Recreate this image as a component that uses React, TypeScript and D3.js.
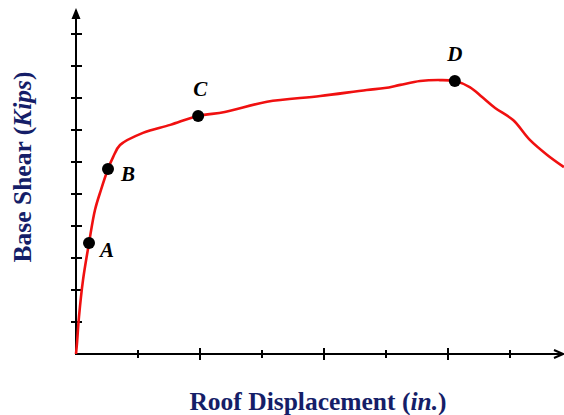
import React from "react";
import * as d3 from "d3";

const curveX = [0, 0.016, 0.048, 0.113, 0.21, 0.306, 0.403, 0.516, 0.6, 0.71, 1.08, 1.52, 1.97, 2.4, 3.08, 3.94, 4.69, 4.98, 5.23, 5.55, 5.87, 6.11, 6.35, 6.55, 6.76, 7.05, 7.32, 7.6, 7.87];
const curveY = [0, 0.34, 1.16, 2.31, 3.47, 4.5, 5.13, 5.78, 6.16, 6.53, 6.91, 7.16, 7.44, 7.56, 7.88, 8.06, 8.25, 8.31, 8.41, 8.53, 8.56, 8.53, 8.34, 8.03, 7.69, 7.31, 6.69, 6.22, 5.84];

const pointLabels = ["A", "B", "C", "D"];
const pointX = [0.21, 0.516, 1.97, 6.11];
const pointY = [3.47, 5.78, 7.44, 8.53];
const labelDx = [18, 20, 2, 0];
const labelDy = [9, 7, -25, -25];

const xTicks = [1, 2, 3, 4, 5, 6, 7];
const yTicks = [1, 2, 3, 4, 5, 6, 7, 8, 9, 10];

const W = 564;
const H = 415;

export default function App() {
  const x = d3.scaleLinear().domain([0, 8]).range([76, 572]);
  const y = d3.scaleLinear().domain([0, 10]).range([354, 34]);
  const data = curveX.map((v, i) => [v, curveY[i]] as [number, number]);
  const line = d3
    .line<[number, number]>()
    .x((d) => x(d[0]))
    .y((d) => y(d[1]))
    .curve(d3.curveCatmullRom.alpha(0.5));

  const x0 = x(0);
  const y0 = y(0);
  const xEnd = 563;
  const yTop = 8;
  const navy = "#151e68";

  return (
    <svg
      width={W}
      height={H}
      style={{ position: "absolute", left: 0, top: 0, background: "#fff" }}
      fontFamily="'Liberation Serif', 'Times New Roman', serif"
    >
      {/* axes */}
      <line x1={x0} y1={y0} x2={xEnd - 1} y2={y0} stroke="#000" strokeWidth={2} />
      <line x1={x0} y1={y0 + 1} x2={x0} y2={yTop + 2} stroke="#000" strokeWidth={2} />
      <path d={`M${x0 - 4.5},${yTop + 11} L${x0},${yTop} L${x0 + 4.5},${yTop + 11} Z`} fill="#000" />
      <path d={`M${xEnd - 9},${y0 - 4} L${xEnd},${y0} L${xEnd - 9},${y0 + 4}`} fill="none" stroke="#000" strokeWidth={2} />

      {xTicks.map((t) => {
        const big = t % 2 === 0;
        return (
          <line
            key={"xt" + t}
            x1={x(t)}
            x2={x(t)}
            y1={y0 - (big ? 6 : 4)}
            y2={y0 + (big ? 6 : 4)}
            stroke="#000"
            strokeWidth={2}
          />
        );
      })}
      {yTicks.map((t) => (
        <line key={"yt" + t} x1={x0 - 5} x2={x0 + 6} y1={y(t)} y2={y(t)} stroke="#000" strokeWidth={2} />
      ))}

      {/* curve */}
      <path d={line(data) || ""} fill="none" stroke="#f01010" strokeWidth={2.6} strokeLinejoin="round" />

      {pointLabels.map((lab, i) => (
        <g key={lab}>
          <circle cx={x(pointX[i])} cy={y(pointY[i])} r={6} fill="#000" />
          <text
            x={x(pointX[i]) + labelDx[i]}
            y={y(pointY[i]) + labelDy[i]}
            textAnchor="middle"
            dominantBaseline="middle"
            fontSize={21}
            fontWeight="bold"
            fontStyle="italic"
            fill="#000"
          >
            {lab}
          </text>
        </g>
      ))}

      {/* axis titles */}
      <text
        x={318}
        y={410}
        textAnchor="middle"
        fontSize={25.5}
        fontWeight="bold"
        fill={navy}
      >
        Roof Displacement (<tspan fontStyle="italic">in.</tspan>)
      </text>
      <text
        transform={`translate(31,167) rotate(-90)`}
        textAnchor="middle"
        fontSize={25.5}
        fontWeight="bold"
        fill={navy}
      >
        Base Shear (<tspan fontStyle="italic">Kips</tspan>)
      </text>
    </svg>
  );
}
